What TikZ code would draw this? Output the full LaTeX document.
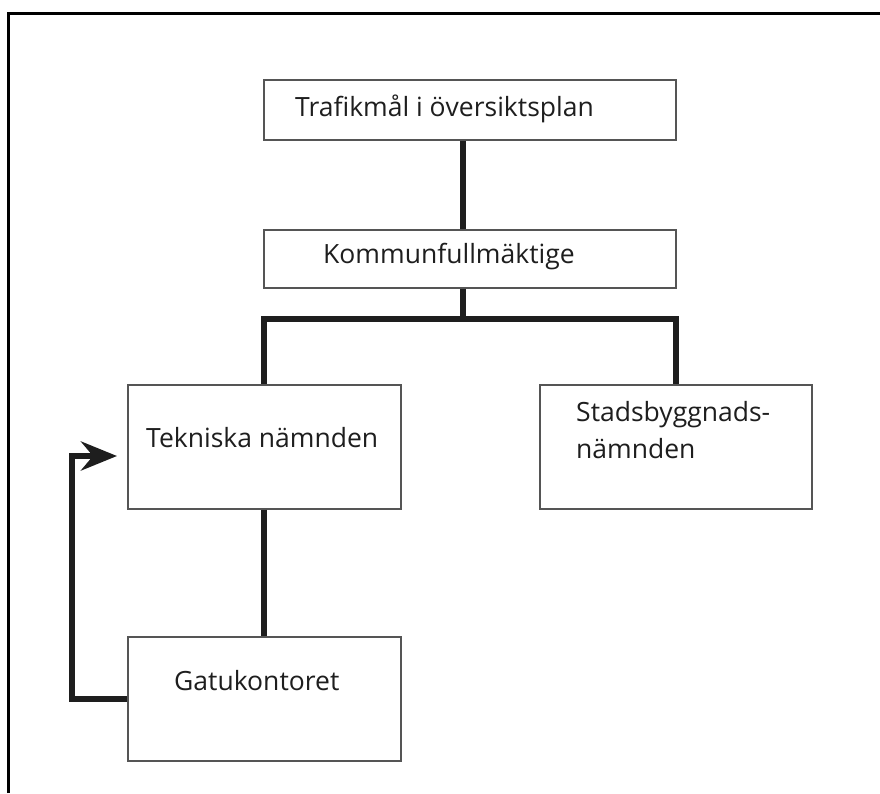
\documentclass[tikz,border=0pt]{standalone}
\usepackage{fontspec}
\setmainfont{Open Sans}
\usetikzlibrary{arrows.meta}
\definecolor{boxline}{HTML}{555555}
\definecolor{ink}{HTML}{1E1E1E}
\begin{document}
\begin{tikzpicture}[x=1pt,y=-1pt,
  orgbox/.style={draw=boxline,line width=1.5pt,fill=white,rectangle,inner sep=0pt,anchor=north west},
  lbl/.style={anchor=base west,inner sep=0pt,text=ink,font=\fontsize{26.5}{37}\selectfont},
  conn/.style={draw=ink,line width=6pt,line join=miter},
  frameline/.style={draw=black,line width=3pt}]
  \useasboundingbox (0,0) rectangle (880,793);
  % page frame (top and left edges)
  \draw[frameline] (8.7,793) -- (8.7,13.3) -- (880,13.3);

  % boxes
  \node[orgbox,minimum width=412pt,minimum height=60pt] (traf) at (263,79) {};
  \node[orgbox,minimum width=412pt,minimum height=58pt] (komm) at (263,229) {};
  \node[orgbox,minimum width=273pt,minimum height=124pt] (tek) at (127,384) {};
  \node[orgbox,minimum width=272pt,minimum height=124pt] (stad) at (539,384) {};
  \node[orgbox,minimum width=273pt,minimum height=124pt] (gat) at (127,636) {};

  % labels
  \node[lbl] (trafT) at (295,116) {Trafikmål i översiktsplan};
  \node[lbl] (kommT) at (323,263) {Kommunfullmäktige};
  \node[lbl] (tekT) at (146,447) {Tekniska nämnden};
  \node[lbl,align=left,anchor=north west] (stadT) at (576,401) {Stadsbyggnads-\\nämnden};
  \node[lbl] (gatT) at (174,690) {Gatukontoret};

  % connectors
  \coordinate (hub) at (463,319);
  \coordinate (fbtip) at (117,456);
  \draw[conn] (traf.south -| hub) -- (komm.north -| hub);
  \draw[conn] (komm.south -| hub) -- (hub);
  \draw[conn] (tek.north) |- (hub) -| (stad.north);
  \draw[conn] (tek.south) -- (gat.north);
  \draw[conn,-{Stealth[length=36pt,width=29pt,inset=12pt]}]
    (gat.west) -| (72,456) -- (fbtip);
\end{tikzpicture}
\end{document}
